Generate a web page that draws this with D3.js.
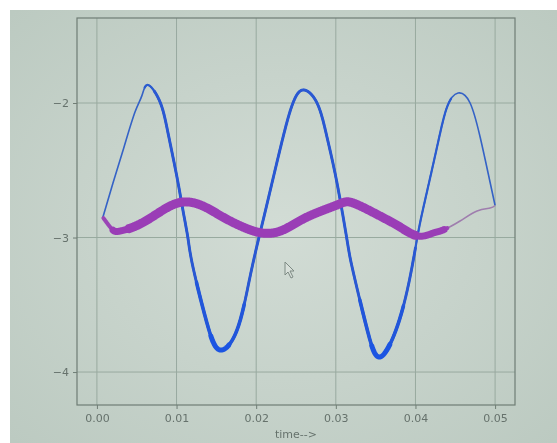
<!DOCTYPE html>
<html>
<head>
	<script src="https://cdnjs.cloudflare.com/ajax/libs/d3/7.8.2/d3.min.js"></script>
	<style>
		html, body { margin: 0 ; padding: 0 ; background: #ffffff ; }
		svg { display: block ; }
		text { font-family: "DejaVu Sans", sans-serif ; fill: #66726c ; }
	</style>
</head>
<body>
	<svg id="canvas"></svg>
</body>
<script>
	let blueT = [ 0.00075, 0.00201, 0.00339, 0.00477, 0.00565, 0.00641, 0.00791, 0.00892, 0.01005, 0.01080,
		0.01143, 0.01206, 0.01382, 0.01545, 0.01759, 0.01922, 0.02048, 0.02148, 0.02337, 0.02462,
		0.02588, 0.02764, 0.02889, 0.03015, 0.03141, 0.03216, 0.03392, 0.03555, 0.03769, 0.03932,
		0.04033, 0.04121, 0.04271, 0.04397, 0.04535, 0.04686, 0.04812, 0.04912, 0.05000 ] ;
	let blueV = [ -2.850, -2.597, -2.330, -2.069, -1.945, -1.866, -1.990, -2.220, -2.550, -2.796,
		-3.004, -3.219, -3.636, -3.836, -3.688, -3.294, -2.967, -2.721, -2.255, -2.000,
		-1.903, -2.000, -2.253, -2.595, -3.019, -3.250, -3.680, -3.888, -3.665, -3.294,
		-2.967, -2.721, -2.327, -2.030, -1.926, -2.000, -2.253, -2.520, -2.762 ] ;

	let purpleT = [ 0.00075, 0.00188, 0.00289, 0.00540, 0.00829, 0.01080, 0.01332, 0.01583, 0.01834, 0.02085,
		0.02337, 0.02638, 0.03015, 0.03216, 0.03555, 0.03807, 0.04033, 0.04221, 0.04347, 0.04560,
		0.04774, 0.04937, 0.05000 ] ;
	let purpleV = [ -2.850, -2.937, -2.952, -2.900, -2.796, -2.736, -2.766, -2.848, -2.922, -2.967,
		-2.944, -2.848, -2.758, -2.743, -2.840, -2.922, -2.989, -2.967, -2.944, -2.877,
		-2.803, -2.781, -2.762 ] ;

	let xTicks = [ 0.00, 0.01, 0.02, 0.03, 0.04, 0.05 ] ;
	let yTicks = [ -2, -3, -4 ] ;
	let xLabel = "time-->" ;
</script>
<script>
	let geom = {
		width: 557,
		height: 443,
		left: 77, right: 515, top: 18, bottom: 405
	} ;
	let scales = {
		x: d3.scaleLinear().domain( [ -0.0025, 0.0525 ] ).range( [ geom.left, geom.right ] ),
		y: d3.scaleLinear().domain( [ -4.245, -1.368 ] ).range( [ geom.bottom, geom.top ] )
	} ;

	let svg = d3.select( 'svg' )
		.attr( 'width', geom.width )
		.attr( 'height', geom.height ) ;

	let defs = svg.append( 'defs' ) ;
	let grad = defs.append( 'radialGradient' ).attr( 'id', 'bg' )
		.attr( 'cx', '50%' ).attr( 'cy', '50%' ).attr( 'r', '70%' ) ;
	grad.append( 'stop' ).attr( 'offset', '0%' ).attr( 'stop-color', '#d2dcd5' ) ;
	grad.append( 'stop' ).attr( 'offset', '100%' ).attr( 'stop-color', '#bccac1' ) ;
	defs.append( 'filter' ).attr( 'id', 'soft' )
		.append( 'feGaussianBlur' ).attr( 'stdDeviation', 0.55 ) ;

	// photographed screen, white margin on top and left
	svg.append( 'rect' ).attr( 'x', 10 ).attr( 'y', 10 )
		.attr( 'width', geom.width - 10 ).attr( 'height', geom.height - 10 )
		.attr( 'fill', 'url(#bg)' ) ;

	let g = svg.append( 'g' ).attr( 'filter', 'url(#soft)' ) ;

	// grid
	g.append( 'g' ).selectAll( 'line' ).data( xTicks ).join( 'line' )
		.attr( 'x1', d => scales.x(d) ).attr( 'x2', d => scales.x(d) )
		.attr( 'y1', geom.top ).attr( 'y2', geom.bottom )
		.attr( 'stroke', '#98aa9f' ).attr( 'stroke-width', 1 ) ;
	g.append( 'g' ).selectAll( 'line' ).data( yTicks ).join( 'line' )
		.attr( 'y1', d => scales.y(d) ).attr( 'y2', d => scales.y(d) )
		.attr( 'x1', geom.left ).attr( 'x2', geom.right )
		.attr( 'stroke', '#98aa9f' ).attr( 'stroke-width', 1 ) ;

	// axes
	let xaxis = g.append( 'g' )
		.attr( 'transform', 'translate(0,' + geom.bottom + ')' )
		.call( d3.axisBottom( scales.x ).tickValues( xTicks ).tickFormat( d3.format( '.2f' ) ).tickSize( 4 ).tickPadding( 5 ) ) ;
	let yaxis = g.append( 'g' )
		.attr( 'transform', 'translate(' + geom.left + ',0)' )
		.call( d3.axisLeft( scales.y ).tickValues( yTicks ).tickFormat( d => '\u2212' + Math.abs(d) ).tickSize( 4 ).tickPadding( 4 ) ) ;
	[ xaxis, yaxis ].forEach( a => {
		a.select( '.domain' ).remove() ;
		a.selectAll( 'line' ).attr( 'stroke', '#6f7d75' ) ;
		a.selectAll( 'text' ).attr( 'fill', '#66726c' ).style( 'font-size', '11px' ) ;
	} ) ;

	g.append( 'rect' )
		.attr( 'x', geom.left ).attr( 'y', geom.top )
		.attr( 'width', geom.right - geom.left ).attr( 'height', geom.bottom - geom.top )
		.attr( 'fill', 'none' ).attr( 'stroke', '#6f7d75' ).attr( 'stroke-width', 1.2 ) ;

	g.append( 'text' )
		.attr( 'x', (geom.left + geom.right) / 2 ).attr( 'y', 438 )
		.attr( 'text-anchor', 'middle' )
		.style( 'font-size', '11px' )
		.text( xLabel ) ;

	// series
	let line = d3.line()
		.x( d => scales.x( d[0] ) )
		.y( d => scales.y( d[1] ) )
		.curve( d3.curveNatural ) ;
	let poly = d3.line() ;

	// sample the drawn curve so the thicker (noisy) stretches sit exactly on it
	let sample = function( path ) {
		let node = path.node() ;
		let len = node.getTotalLength() ;
		let out = [] ;
		for( let s = 0 ; s <= len ; s += 0.5 ) {
			let p = node.getPointAtLength( s ) ;
			out.push( [ p.x, p.y ] ) ;
		}
		return out ;
	} ;

	let drawSeries = function( tt, vv, thin, layers ) {
		let pts = tt.map( (t, i) => [ t, vv[i] ] ) ;
		let base = g.append( 'path' )
			.attr( 'd', line( pts ) )
			.attr( 'fill', 'none' )
			.attr( 'stroke', thin.c )
			.attr( 'stroke-width', thin.w )
			.attr( 'stroke-linejoin', 'round' ) ;
		let samples = sample( base ) ;
		layers.forEach( l => {
			let a = scales.x( l.from ), b = scales.x( l.to ) ;
			let seg = samples.filter( p => p[0] >= a && p[0] <= b ) ;
			g.append( 'path' )
				.attr( 'd', poly( seg ) )
				.attr( 'fill', 'none' )
				.attr( 'stroke', l.c )
				.attr( 'stroke-width', l.w )
				.attr( 'stroke-linecap', 'round' )
				.attr( 'stroke-linejoin', 'round' ) ;
		} ) ;
	} ;

	drawSeries( blueT, blueV, { c: '#3462c6', w: 1.6 }, [
		{ from: 0.0060, to: 0.0445, c: '#2c5bcf', w: 2.2 },
		{ from: 0.0072, to: 0.0400, c: '#2a59d2', w: 2.9 },
		{ from: 0.0125, to: 0.0185, c: '#2357da', w: 3.6 },
		{ from: 0.0143, to: 0.0166, c: '#1d55e2', w: 5 },
		{ from: 0.0330, to: 0.0385, c: '#2357da', w: 3.6 },
		{ from: 0.0345, to: 0.0368, c: '#1d55e2', w: 5 }
	] ) ;

	drawSeries( purpleT, purpleV, { c: '#9f7eae', w: 1.6 }, [
		{ from: 0.0008, to: 0.0440, c: '#9b45b6', w: 4 },
		{ from: 0.0020, to: 0.0436, c: '#9a3eb6', w: 7 },
		{ from: 0.0040, to: 0.0400, c: '#9a3db6', w: 9 }
	] ) ;

	// mouse pointer visible on the screen
	g.append( 'path' )
		.attr( 'transform', 'translate(285,262)' )
		.attr( 'd', 'M0,0 L0,13 L3,10 L6,16 L8,15 L5,9 L9,9 Z' )
		.attr( 'fill', '#d8e0da' ).attr( 'stroke', '#7d8a83' ).attr( 'stroke-width', 1 ) ;
</script>
</html>
